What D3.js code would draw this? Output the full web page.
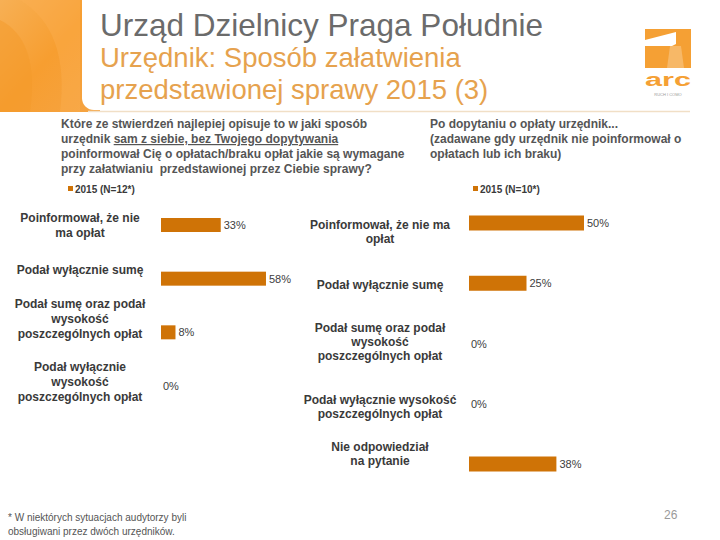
<!DOCTYPE html>
<html><head><meta charset="utf-8">
<script src="https://cdn.jsdelivr.net/npm/d3@7"></script>
<style>body{margin:0;background:#fff}svg{display:block}</style>
</head><body>
<script>
// ---- data ----
const leftCategories = [
  ["Poinformował, że nie","ma opłat"],
  ["Podał wyłącznie sumę"],
  ["Podał sumę oraz podał","wysokość","poszczególnych opłat"],
  ["Podał wyłącznie","wysokość","poszczególnych opłat"]
];
const leftValues = [33, 58, 8, 0];
const rightCategories = [
  ["Poinformował, że nie ma","opłat"],
  ["Podał wyłącznie sumę"],
  ["Podał sumę oraz podał","wysokość","poszczególnych opłat"],
  ["Podał wyłącznie wysokość","poszczególnych opłat"],
  ["Nie odpowiedział","na pytanie"]
];
const rightValues = [50, 25, 0, 0, 38];
const leftLegend = "2015 (N=12*)";
const rightLegend = "2015 (N=10*)";

// ---- layout ----
const leftLabelShift = [0, -9, -13, -4];
const rightLabelShift = [9, 2, -2, 3, -10];
const barColor = "#cf7306";
const W = 720, H = 540;
const svg = d3.select("body").append("svg").attr("width", W).attr("height", H)
  .style("font-family", "'Liberation Sans', Arial, sans-serif");

// header decoration
const defs = svg.append("defs");
const g1 = defs.append("linearGradient").attr("id","hg").attr("x1","0").attr("y1","0").attr("x2","1").attr("y2","1");
g1.append("stop").attr("offset","0").attr("stop-color","#f7b055");
g1.append("stop").attr("offset","0.5").attr("stop-color","#f79e30");
g1.append("stop").attr("offset","1").attr("stop-color","#f5a443");
svg.append("rect").attr("x",0).attr("y",0).attr("width",100).attr("height",112).attr("fill","url(#hg)");
svg.append("path").attr("d","M0,20 Q40,40 30,112 L0,112 Z").attr("fill","#f39a2a").attr("opacity",0.5);
svg.append("path").attr("d","M20,0 Q70,30 60,112 L80,112 L80,0 Z").attr("fill","#fbb257").attr("opacity",0.35);
svg.append("rect").attr("x",82).attr("y",-20).attr("width",700).attr("height",130).attr("rx",12).attr("fill","#fff");
svg.append("line").attr("x1",88).attr("x2",690).attr("y1",111.5).attr("y2",111.5)
  .attr("stroke","#f1dfc6").attr("stroke-width",1.5);

svg.append("text").attr("x",100).attr("y",36).attr("font-size",31.5).attr("fill","#6b6b6b")
  .text("Urząd Dzielnicy Praga Południe");
svg.append("text").attr("x",100).attr("y",67).attr("font-size",27.5).attr("fill","#e6a24e")
  .text("Urzędnik: Sposób załatwienia");
svg.append("text").attr("x",100).attr("y",99).attr("font-size",27.5).attr("fill","#e6a24e")
  .text("przedstawionej sprawy 2015 (3)");

// logo
const logo = svg.append("g");
logo.append("rect").attr("x",645).attr("y",29).attr("width",46).attr("height",39).attr("fill","#f5a034");
logo.append("path").attr("d","M645,40 L676,32 L676,44 L672,46 L645,46 Z").attr("fill","#fff");
logo.append("path").attr("d","M670,46 L681,46 L684,68 L667,68 Z").attr("fill","#fff").attr("opacity",0.25);
logo.append("text").attr("x",645).attr("y",86).attr("font-size",18)
  .attr("font-weight","bold").attr("fill","#f5a034").attr("textLength",46)
  .attr("lengthAdjust","spacingAndGlyphs").text("arc");
logo.append("text").attr("x",668).attr("y",96).attr("text-anchor","middle").attr("font-size",4)
  .attr("fill","#999").text("RUCH I COMO");

// questions
const qStyle = t => t.attr("font-size",12).attr("font-weight","bold").attr("fill","#555");
const q1 = ["Które ze stwierdzeń najlepiej opisuje to w jaki sposób",
  null,
  "poinformował Cię o opłatach/braku opłat jakie są wymagane",
  "przy załatwianiu  przedstawionej przez Ciebie sprawy?"];
q1.forEach((s,i)=>{
  const t = svg.append("text").attr("x",61).attr("y",128+i*15).call(qStyle).attr("xml:space","preserve");
  if (s===null){
    t.append("tspan").text("urzędnik ");
    t.append("tspan").attr("text-decoration","underline").text("sam z siebie, bez Twojego dopytywania");
  } else t.text(s);
});
["Po dopytaniu o opłaty urzędnik...",
 "(zadawane gdy urzędnik nie poinformował o",
 "opłatach lub ich braku)"].forEach((s,i)=>{
  svg.append("text").attr("x",430).attr("y",128+i*15).call(qStyle).text(s);
});

// legends
function legend(x, label){
  svg.append("rect").attr("x",x).attr("y",186).attr("width",5).attr("height",5).attr("fill",barColor);
  svg.append("text").attr("x",x+7).attr("y",193).attr("font-size",10).attr("font-weight","bold")
    .attr("fill","#3a3a3a").text(label);
}
legend(68, leftLegend);
legend(473, rightLegend);

// charts
function chart(cats, vals, shifts, xr, yr, labelX, barH, lh){
  const x = d3.scaleLinear().domain([0,100]).range(xr);
  const y = d3.scalePoint().domain(d3.range(cats.length)).range(yr);
  const g = svg.append("g");
  g.selectAll("rect.bar").data(vals).join("rect").attr("class","bar")
    .attr("x", x(0)).attr("y",(d,i)=>y(i)-barH/2)
    .attr("width", d=>x(d)-x(0)).attr("height", barH).attr("fill", barColor);
  g.selectAll("text.val").data(vals).join("text").attr("class","val")
    .attr("x", d=>x(d)+ (d>0?3:2)).attr("y",(d,i)=>y(i)+4)
    .attr("font-size",11).attr("fill","#404040").text(d=>d+"%");
  cats.forEach((lines,i)=>{
    const c = y(i) + shifts[i];
    const t = g.append("text").attr("x",labelX).attr("text-anchor","middle")
      .attr("font-size",12).attr("font-weight","bold").attr("fill","#3a3a3a");
    lines.forEach((l,j)=>{
      t.append("tspan").attr("x",labelX)
        .attr("y", c + (j-(lines.length-1)/2)*lh + 4).text(l);
    });
  });
}
chart(leftCategories, leftValues, leftLabelShift, [161, 342], [225, 386], 80, 14, 15);
chart(rightCategories, rightValues, rightLabelShift, [469, 699], [223, 464], 380, 15, 14);

// footnote & page number
svg.append("text").attr("x",8).attr("y",521).attr("font-size",10).attr("fill","#555")
  .text("* W niektórych sytuacjach audytorzy byli");
svg.append("text").attr("x",8).attr("y",535).attr("font-size",10).attr("fill","#555")
  .text("obsługiwani przez dwóch urzędników.");
svg.append("text").attr("x",664).attr("y",519).attr("font-size",12).attr("fill","#9a9a9a").text("26");
</script>
</body></html>
